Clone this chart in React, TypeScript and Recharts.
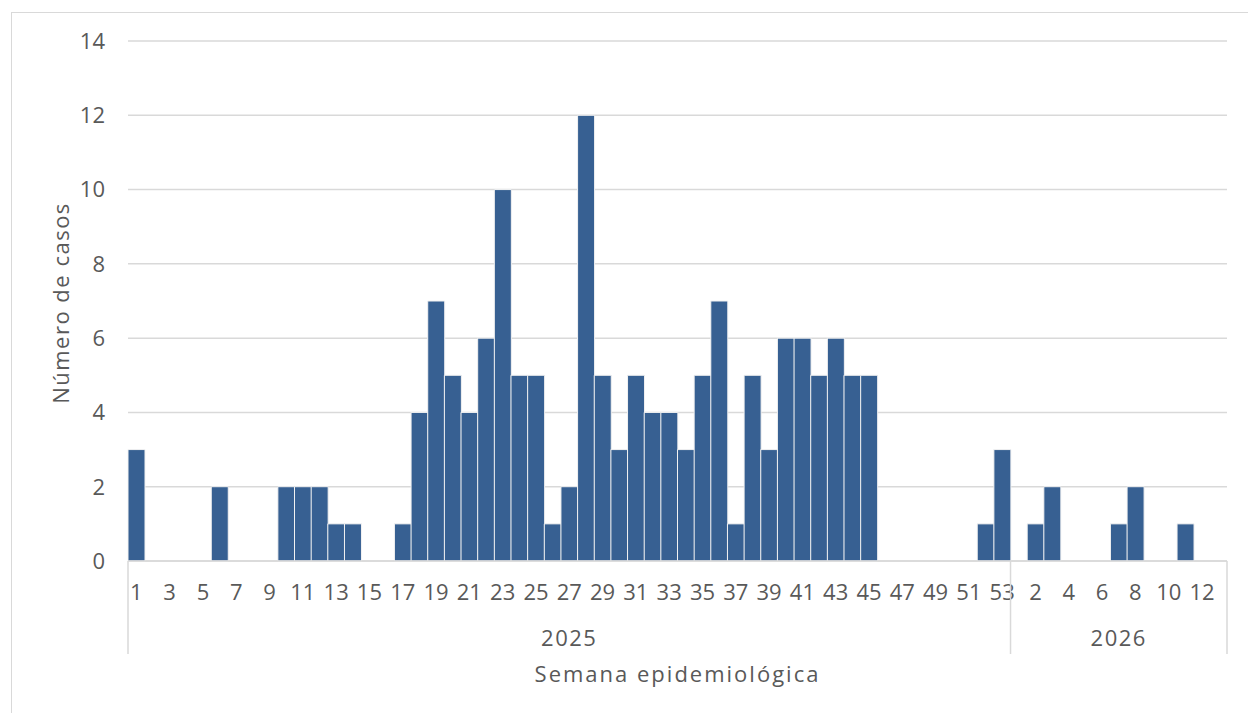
import { Bar, BarChart, CartesianGrid, XAxis, YAxis } from "recharts";

const WEEKS_2025 = [
  1, 2, 3, 4, 5, 6, 7, 8, 9, 10, 11, 12, 13, 14, 15, 16, 17, 18, 19, 20, 21,
  22, 23, 24, 25, 26, 27, 28, 29, 30, 31, 32, 33, 34, 35, 36, 37, 38, 39, 40,
  41, 42, 43, 44, 45, 46, 47, 48, 49, 50, 51, 52, 53,
];
const CASES_2025 = [
  3, 0, 0, 0, 0, 2, 0, 0, 0, 2, 2, 2, 1, 1, 0, 0, 1, 4, 7, 5, 4, 6, 10, 5, 5,
  1, 2, 12, 5, 3, 5, 4, 4, 3, 5, 7, 1, 5, 3, 6, 6, 5, 6, 5, 5, 0, 0, 0, 0, 0,
  0, 1, 3,
];
const WEEKS_2026 = [1, 2, 3, 4, 5, 6, 7, 8, 9, 10, 11, 12, 13];
const CASES_2026 = [0, 1, 2, 0, 0, 0, 1, 2, 0, 0, 1, 0, 0];
const Y_TICKS = [0, 2, 4, 6, 8, 10, 12, 14];

const GROUPS = [
  { year: "2025", weeks: WEEKS_2025, cases: CASES_2025 },
  { year: "2026", weeks: WEEKS_2026, cases: CASES_2026 },
];

const data = GROUPS.flatMap((g) =>
  g.weeks.map((w, i) => ({
    key: `${g.year}-${w}`,
    week: w,
    year: g.year,
    first: i === 0,
    mid: i === Math.floor(g.weeks.length / 2),
    casos: g.cases[i],
  }))
);

const W = 1248;
const H = 713;
const M = { top: 41, right: 21, left: 0, bottom: 0 };
const Y_AXIS_W = 128;
const WEEK_AXIS_H = 46;
const YEAR_AXIS_H = 106;
const BAND = (W - M.left - M.right - Y_AXIS_W) / data.length;

const TEXT = "#595959";
const LINE = "#d9d9d9";
const FONT = "'Open Sans', sans-serif";

function WeekTick(props: any) {
  const { x, y, payload } = props;
  const row = data.find((d) => d.key === payload.value);
  return (
    <text x={x} y={y + 39} textAnchor="middle" fill={TEXT} fontSize={22} fontFamily={FONT}>
      {row ? row.week : ""}
    </text>
  );
}

function YearTick(props: any) {
  const { x, y, payload, index } = props;
  const row = data.find((d) => d.key === payload.value);
  if (!row) return null;
  const top = y - WEEK_AXIS_H;
  const bottom = y + 47;
  return (
    <g>
      {row.first && (
        <line x1={x - BAND / 2} x2={x - BAND / 2} y1={top} y2={bottom} stroke={LINE} strokeWidth={1.5} />
      )}
      {index === data.length - 1 && (
        <line x1={x + BAND / 2} x2={x + BAND / 2} y1={top} y2={bottom} stroke={LINE} strokeWidth={1.5} />
      )}
      {row.mid && (
        <text
          x={x}
          y={y + 39}
          textAnchor="middle"
          fill={TEXT}
          fontSize={22}
          fontFamily={FONT}
          letterSpacing={1.5}
        >
          {row.year}
        </text>
      )}
    </g>
  );
}

export default function App() {
  return (
    <div
      style={{
        position: "absolute",
        left: 0,
        top: 0,
        width: W,
        height: H,
        overflow: "hidden",
        background: "#fff",
      }}
    >
      <div
        style={{
          position: "absolute",
          left: 11,
          top: 12,
          width: 1300,
          height: 800,
          border: `1px solid ${LINE}`,
        }}
      />
      <div style={{ position: "absolute", left: 0, top: 0 }}>
        <BarChart
          width={W}
          height={H}
          data={data}
          margin={M}
          barCategoryGap={0}
          barGap={0}
          style={{ fontFamily: FONT }}
        >
          <CartesianGrid vertical={false} stroke={LINE} strokeWidth={1.5} />
          <XAxis
            dataKey="key"
            xAxisId="week"
            interval={1}
            height={WEEK_AXIS_H}
            tickLine={false}
            tickSize={0}
            tickMargin={0}
            axisLine={{ stroke: LINE, strokeWidth: 1.5 }}
            tick={<WeekTick />}
          />
          <XAxis
            dataKey="key"
            xAxisId="year"
            interval={0}
            height={YEAR_AXIS_H}
            tickLine={false}
            tickSize={0}
            tickMargin={0}
            axisLine={false}
            tick={<YearTick />}
            label={{
              value: "Semana epidemiológica",
              position: "insideBottom",
              offset: 31,
              fill: TEXT,
              fontSize: 22,
              fontFamily: FONT,
              letterSpacing: 2,
            }}
          />
          <YAxis
            domain={[0, 14]}
            ticks={Y_TICKS}
            width={Y_AXIS_W}
            tickLine={false}
            tickSize={0}
            tickMargin={23}
            axisLine={false}
            tick={{ fill: TEXT, fontSize: 22, fontFamily: FONT }}
            label={{
              content: () => (
                <text
                  x={60}
                  y={303}
                  transform="rotate(-90, 60, 303)"
                  textAnchor="middle"
                  dominantBaseline="central"
                  fill={TEXT}
                  fontSize={22}
                  fontFamily={FONT}
                  letterSpacing={1.5}
                >
                  Número de casos
                </text>
              ),
            }}
          />
          <Bar
            dataKey="casos"
            xAxisId="week"
            fill="#376092"
            stroke="#f2f2f2"
            strokeWidth={1}
            isAnimationActive={false}
          />
        </BarChart>
      </div>
    </div>
  );
}
